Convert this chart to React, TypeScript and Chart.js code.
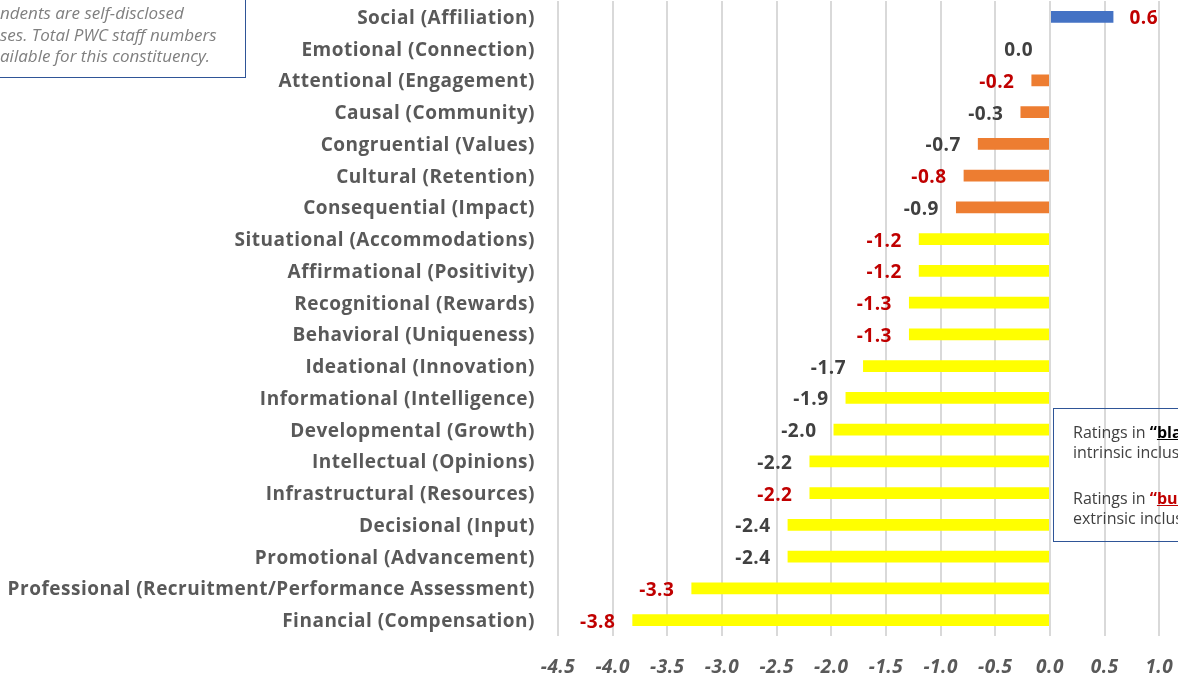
import React, { useEffect, useRef } from "react";
import { Chart, registerables } from "chart.js";

Chart.register(...registerables);

const categories = [
  "Social (Affiliation)",
  "Emotional (Connection)",
  "Attentional (Engagement)",
  "Causal (Community)",
  "Congruential (Values)",
  "Cultural (Retention)",
  "Consequential (Impact)",
  "Situational (Accommodations)",
  "Affirmational (Positivity)",
  "Recognitional (Rewards)",
  "Behavioral (Uniqueness)",
  "Ideational (Innovation)",
  "Informational (Intelligence)",
  "Developmental (Growth)",
  "Intellectual (Opinions)",
  "Infrastructural (Resources)",
  "Decisional (Input)",
  "Promotional (Advancement)",
  "Professional (Recruitment/Performance Assessment)",
  "Financial (Compensation)",
];

const values = [
  0.58, 0.0, -0.17, -0.27, -0.66, -0.79, -0.86, -1.2, -1.2, -1.29, -1.29,
  -1.71, -1.87, -1.98, -2.2, -2.2, -2.4, -2.4, -3.28, -3.82,
];

// rating tier of each bar
const tiers = [
  "positive", "severe", "moderate", "moderate", "moderate", "moderate", "moderate",
  "severe", "severe", "severe", "severe", "severe", "severe", "severe",
  "severe", "severe", "severe", "severe", "severe", "severe",
];

// inclusion type of each rating (black = intrinsic, burgundy = extrinsic)
const inclusionTypes = [
  "extrinsic", "intrinsic", "extrinsic", "intrinsic", "intrinsic", "extrinsic", "intrinsic",
  "extrinsic", "extrinsic", "extrinsic", "extrinsic", "intrinsic", "intrinsic", "intrinsic",
  "intrinsic", "extrinsic", "intrinsic", "intrinsic", "extrinsic", "extrinsic",
];

const xMin = -4.5;
const xMax = 1.5;
const xStep = 0.5;

const noteLines = [
  "ndents are self-disclosed",
  "ses. Total PWC staff numbers",
  "ailable for this constituency.",
];

const tierColors: Record<string, string> = {
  positive: "#4472C4",
  moderate: "#ED7D31",
  severe: "#FFFF00",
};
const typeColors: Record<string, string> = {
  extrinsic: "#C00000",
  intrinsic: "#404040",
};

const FONT = "'Open Sans', sans-serif";

const spacingPlugin = {
  id: "letterSpacing",
  beforeDraw(chart: any) {
    chart.ctx.letterSpacing = "0.5px";
  },
};

const valueLabelPlugin = {
  id: "valueLabels",
  afterDatasetsDraw(chart: any) {
    const ctx = chart.ctx;
    const meta = chart.getDatasetMeta(0);
    ctx.save();
    ctx.font = `bold 19px ${FONT}`;
    ctx.letterSpacing = "0.5px";
    ctx.textBaseline = "middle";
    meta.data.forEach((el: any, i: number) => {
      const v = values[i];
      const p = el.getProps(["x", "y", "base"], true);
      ctx.fillStyle = typeColors[inclusionTypes[i]];
      const txt = v.toFixed(1);
      if (v > 0) {
        ctx.textAlign = "left";
        ctx.fillText(txt, Math.max(p.x, p.base) + 16, p.y + 2);
      } else {
        ctx.textAlign = "right";
        ctx.fillText(txt, Math.min(p.x, p.base) - 17, p.y + 2);
      }
    });
    ctx.restore();
  },
};

export default function App() {
  const canvasRef = useRef<HTMLCanvasElement | null>(null);

  useEffect(() => {
    if (!canvasRef.current) return;
    const chart = new Chart(canvasRef.current, {
      type: "bar",
      data: {
        labels: categories,
        datasets: [
          {
            data: values,
            backgroundColor: tiers.map((t) => tierColors[t]),
            borderWidth: 0,
            barPercentage: 0.37,
            categoryPercentage: 1,
          },
        ],
      },
      options: {
        indexAxis: "y",
        responsive: false,
        animation: false,
        layout: { padding: { top: 1, right: 86, left: 0, bottom: 0 } },
        plugins: {
          legend: { display: false },
          tooltip: { enabled: false },
        },
        scales: {
          x: {
            type: "linear",
            min: xMin,
            max: xMax,
            afterFit: (scale: any) => {
              scale.height = 43;
              scale.paddingLeft = 0;
              scale.paddingRight = 0;
            },
            ticks: {
              stepSize: xStep,
              padding: 20,
              color: "#595959",
              font: { family: FONT, size: 19, weight: "bold", style: "italic" },
              callback: (v: any) => Number(v).toFixed(1),
            },
            grid: { color: "#D9D9D9", lineWidth: 2, drawTicks: false },
            border: { display: false },
          },
          y: {
            afterFit: (scale: any) => {
              scale.width = 558;
              scale.paddingTop = 0;
              scale.paddingBottom = 0;
            },
            ticks: {
              padding: 23,
              labelOffset: 1.5,
              color: "#595959",
              font: { family: FONT, size: 19, weight: "bold" },
            },
            grid: { display: false, drawTicks: false },
            border: { display: false },
          },
        },
      },
      plugins: [spacingPlugin, valueLabelPlugin],
    } as any);
    return () => chart.destroy();
  }, []);

  return (
    <div
      style={{
        position: "fixed",
        left: 0,
        top: 0,
        width: 1178,
        height: 679,
        overflow: "hidden",
        background: "#FFFFFF",
      }}
    >
      <canvas ref={canvasRef} width={1300} height={679} style={{ position: "absolute", left: 0, top: 0 }} />
      <div
        style={{
          position: "absolute",
          left: -20,
          top: -20,
          width: 266,
          height: 98,
          border: "1.5px solid #2F5597",
          boxSizing: "border-box",
          fontFamily: FONT,
          fontStyle: "italic",
          fontSize: 17,
          color: "#7F7F7F",
        }}
      >
        {noteLines.map((l, i) => (
          <div
            key={i}
            style={{ position: "absolute", left: 19, top: 21 + i * 21.5, whiteSpace: "nowrap", lineHeight: "22px" }}
          >
            {l}
          </div>
        ))}
      </div>
      <div
        style={{
          position: "absolute",
          left: 1053,
          top: 408,
          width: 300,
          height: 134,
          border: "1.5px solid #2F5597",
          boxSizing: "border-box",
          fontFamily: FONT,
          fontSize: 16,
          color: "#404040",
        }}
      >
        <div style={{ position: "absolute", left: 19, top: 13, whiteSpace: "nowrap", lineHeight: "20px" }}>
          Ratings in <b style={{ color: "#000" }}>“<u>black</u>”</b> reflect
        </div>
        <div style={{ position: "absolute", left: 19, top: 33, whiteSpace: "nowrap", lineHeight: "20px" }}>
          intrinsic inclusion dimensions.
        </div>
        <div style={{ position: "absolute", left: 19, top: 79, whiteSpace: "nowrap", lineHeight: "20px" }}>
          Ratings in <b style={{ color: "#C00000" }}>“<u>burgundy</u>”</b> reflect
        </div>
        <div style={{ position: "absolute", left: 19, top: 99, whiteSpace: "nowrap", lineHeight: "20px" }}>
          extrinsic inclusion dimensions.
        </div>
      </div>
    </div>
  );
}
